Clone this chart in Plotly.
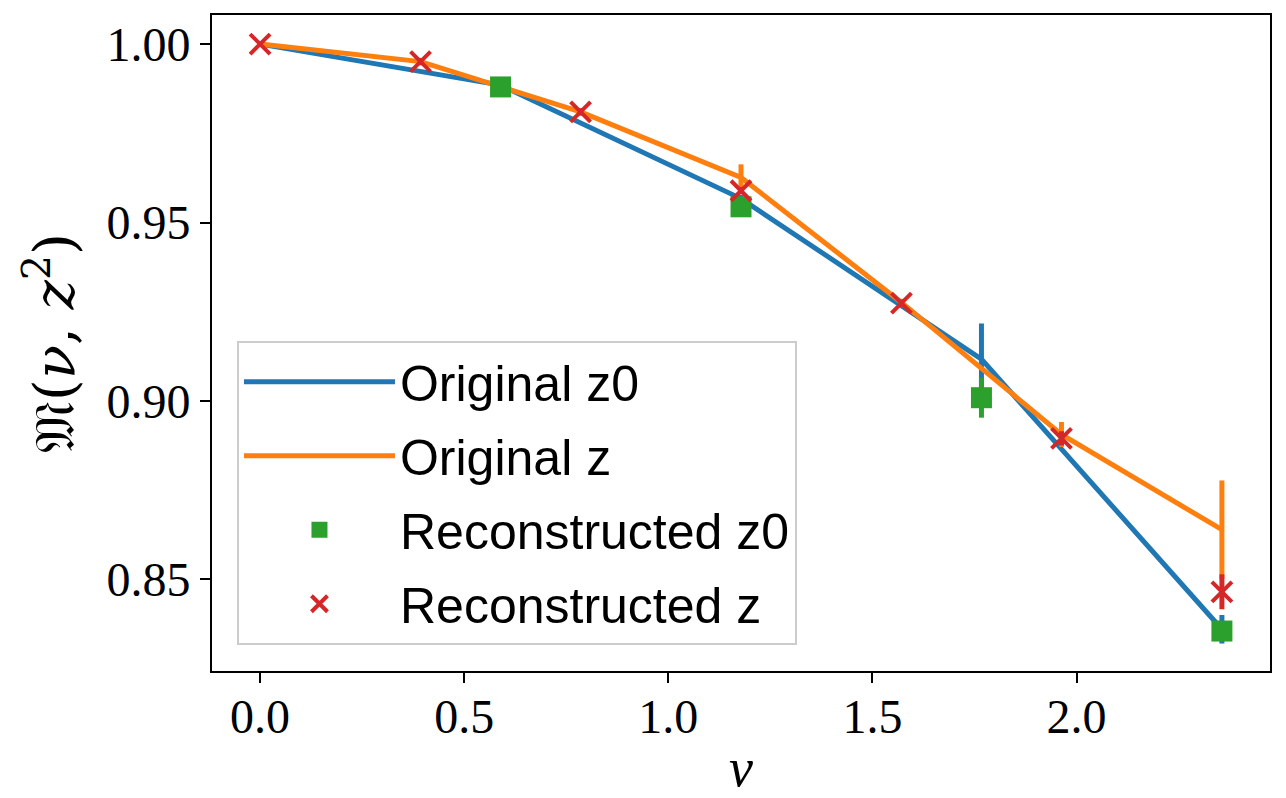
import plotly.graph_objects as go

# ---- data ----
nu_orig_z0 = [0.0, 0.589, 1.178, 1.767, 2.356]
nu_rec_z0 = [0.589, 1.178, 1.767, 2.356]
nu_z = [0.0, 0.393, 0.785, 1.178, 1.571, 1.963, 2.356]

orig_z0 = [1.000, 0.9885, 0.9567, 0.9117, 0.8360]
orig_z0_err = [0.0, 0.001, 0.001, 0.0100, 0.0040]

orig_z = [1.000, 0.9951, 0.9810, 0.9626, 0.9276, 0.8906, 0.8639]
orig_z_err = [0.0, 0.001, 0.001, 0.0037, 0.001, 0.0035, 0.0138]

rec_z0 = [0.9880, 0.9544, 0.9009, 0.8355]
rec_z0_err = [0.001, 0.0015, 0.0056, 0.0020]

rec_z = [1.000, 0.9951, 0.9810, 0.9589, 0.9274, 0.8895, 0.8465]
rec_z_err = [0.0, 0.001, 0.001, 0.001, 0.001, 0.002, 0.0049]

x_ticks = [0.0, 0.5, 1.0, 1.5, 2.0]
x_tick_text = ["0.0", "0.5", "1.0", "1.5", "2.0"]
y_ticks = [0.85, 0.90, 0.95, 1.00]
y_tick_text = ["0.85", "0.90", "0.95", "1.00"]

BLUE, ORANGE, GREEN, RED = "#1f77b4", "#ff7f0e", "#2ca02c", "#d62728"

fig = go.Figure()
fig.add_trace(go.Scatter(
    x=nu_orig_z0, y=orig_z0, mode="lines", name="Original z0", legendgroup="a",
    line=dict(color=BLUE, width=5),
    error_y=dict(type="data", array=orig_z0_err, visible=True,
                 color=BLUE, thickness=5, width=0)))
fig.add_trace(go.Scatter(
    x=nu_z, y=orig_z, mode="lines", name="Original z", legendgroup="b",
    line=dict(color=ORANGE, width=5),
    error_y=dict(type="data", array=orig_z_err, visible=True,
                 color=ORANGE, thickness=5, width=0)))
fig.add_trace(go.Scatter(
    x=nu_rec_z0, y=rec_z0, mode="markers", name="Reconstructed z0", legendgroup="c",
    marker=dict(symbol="square", size=21, color=GREEN),
    error_y=dict(type="data", array=rec_z0_err, visible=True,
                 color=GREEN, thickness=5, width=0)))
fig.add_trace(go.Scatter(
    x=nu_z, y=rec_z, mode="markers", name="Reconstructed z", legendgroup="d",
    marker=dict(symbol="x-thin", size=20, color=RED,
                line=dict(color=RED, width=4)),
    error_y=dict(type="data", array=rec_z_err, visible=True,
                 color=RED, thickness=5, width=0)))

tick_font = dict(family="Liberation Serif, DejaVu Serif, serif", size=48, color="black")

# the page body adds an 8px offset, so the figure is sized to fit the window
fig.update_layout(
    width=1278, height=790,
    margin=dict(l=204, r=16, t=7, b=127),
    paper_bgcolor="white", plot_bgcolor="white",
    showlegend=True,
    legend=dict(
        x=0.0236, y=0.04, xanchor="left", yanchor="bottom",
        bgcolor="rgba(255,255,255,0.85)", bordercolor="#cccccc", borderwidth=2,
        font=dict(family="Liberation Sans, Arial, sans-serif", size=50, color="black"),
        itemwidth=151, traceorder="grouped", tracegroupgap=6,
    ),
    xaxis=dict(
        range=[-0.1178, 2.4738], tickvals=x_ticks, ticktext=x_tick_text,
        showgrid=False, zeroline=False, showline=True, linecolor="black",
        linewidth=2, mirror=True, ticks="outside", ticklen=10, tickwidth=2,
        tickcolor="black", tickfont=tick_font, automargin=False,
        ticklabelstandoff=-8,
        title=dict(text="<i>ν</i>", font=dict(family="Liberation Serif, DejaVu Serif, serif",
                                                 size=54, color="black"), standoff=12),
    ),
    yaxis=dict(
        range=[0.8243, 1.00816], tickvals=y_ticks, ticktext=y_tick_text,
        showgrid=False, zeroline=False, showline=True, linecolor="black",
        linewidth=2, mirror=True, ticks="outside", ticklen=10, tickwidth=2,
        tickcolor="black", tickfont=tick_font, automargin=False,
        title=dict(text="𝔐(<i>ν</i>, <i>z</i><sup>2</sup>)",
                   font=dict(family="DejaVu Serif, Liberation Serif, serif", size=56, color="black"),
                   standoff=14),
    ),
)

fig.write_html("out.html")
